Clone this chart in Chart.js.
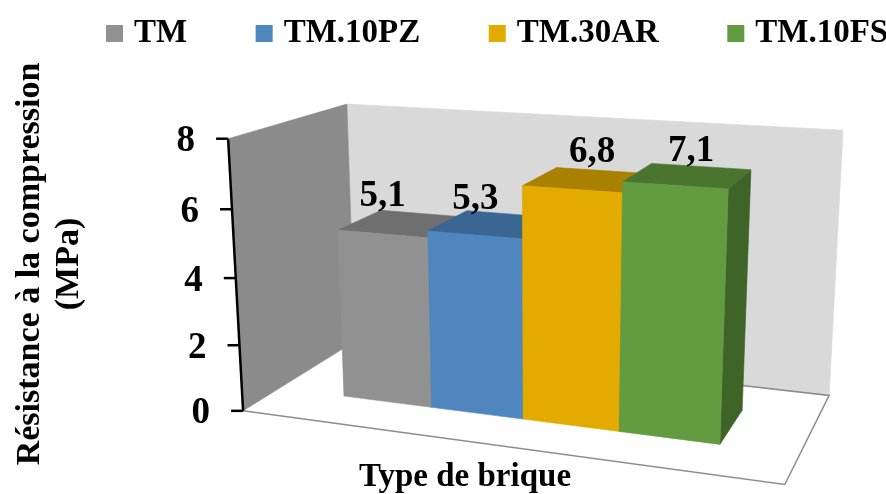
<!DOCTYPE html>
<html>
<head>
<meta charset="utf-8">
<style>html,body{margin:0;padding:0;background:#fff}canvas{display:block}</style>
<script src="https://cdn.jsdelivr.net/npm/chart.js@4"></script>
</head>
<body>
<canvas id="c" width="886" height="494"></canvas>
<script>
const categories = ["Type de brique"];
const seriesNames = ["TM", "TM.10PZ", "TM.30AR", "TM.10FS"];
const tmValues = [5.1];
const pzValues = [5.3];
const arValues = [6.8];
const fsValues = [7.1];
const tickLabels = ["0", "2", "4", "6", "8"];
const frontColors = ["#919191", "#4f86bd", "#e3aa00", "#629b40"];
const topColors = ["#6f6f6f", "#3b6593", "#aa8000", "#4a752f"];
const sideColors = ["#5f5f5f", "#33587f", "#8f6b00", "#3e6428"];
const labelShiftX = [-21, -18, 4, 3];
const labelShiftY = [-2, 1, -3, 0];
const FONT = '"Liberation Serif"';

// 3D box of the chart: corners as [u, v, depth] -> picture position
const boxCorners = [
  [0,0,0, 243,411],[1,0,0, 785,484],[1,0,1, 829,396],[0,0,1, 355,341],
  [0,1,0, 228,139],[0,1,1, 347,104],[1,1,1, 843,130]
];
function fitCamera(pts){
  const rows=[],rhs=[];
  pts.forEach(([u,v,d,X,Y])=>{
    rows.push([u,v,d,1,0,0,0,0,-X*u,-X*v,-X*d]);rhs.push(X);
    rows.push([0,0,0,0,u,v,d,1,-Y*u,-Y*v,-Y*d]);rhs.push(Y);
  });
  const n=11,M=[];
  for(let i=0;i<n;i++){
    const r=new Array(n+1).fill(0);
    for(let j=0;j<n;j++)rows.forEach(row=>{r[j]+=row[i]*row[j];});
    rows.forEach((row,k)=>{r[n]+=row[i]*rhs[k];});
    M.push(r);
  }
  for(let i=0;i<n;i++){
    let p=i;for(let k=i+1;k<n;k++)if(Math.abs(M[k][i])>Math.abs(M[p][i]))p=k;
    [M[i],M[p]]=[M[p],M[i]];
    for(let k=0;k<n;k++){if(k===i)continue;const f=M[k][i]/M[i][i];for(let j=i;j<=n;j++)M[k][j]-=f*M[i][j];}
  }
  return M.map((r,i)=>r[n]/r[i]);
}
const cam=fitCamera(boxCorners);
function project(u,v,d){
  const w=cam[8]*u+cam[9]*v+cam[10]*d+1;
  return [(cam[0]*u+cam[1]*v+cam[2]*d+cam[3])/w,(cam[4]*u+cam[5]*v+cam[6]*d+cam[7])/w];
}
function poly(ctx,pts,fill,stroke){
  ctx.beginPath();pts.forEach((p,i)=>i?ctx.lineTo(p[0],p[1]):ctx.moveTo(p[0],p[1]));ctx.closePath();
  ctx.fillStyle=fill;ctx.fill();
  ctx.strokeStyle=stroke||fill;ctx.lineWidth=0.6;ctx.stroke();
}
const D1=0.30,D2=0.70;

const scene3d={
  id:'scene3d',
  beforeLayout(chart){
    const lg=chart.legend;
    if(lg&&!lg._wrapped){
      const f=lg.fit;
      lg.fit=function(){
        const mw=this.maxWidth;
        this.maxWidth=1400;
        f.call(this);
        this.maxWidth=mw;this.width=mw;this.height=50;
      };
      lg._wrapped=true;
    }
  },
  afterLayout(chart){
    const lg=chart.legend,pad=lg.options.labels.padding;
    lg.left=111.5-pad; lg.right=1400;
    lg.top=17-pad; lg.bottom=60;
  },
  beforeDatasetsDraw(chart){
    const ctx=chart.ctx,xs=chart.scales.x,ys=chart.scales.y,area=chart.chartArea;
    const vOf=val=>(ys.getPixelForValue(0)-ys.getPixelForValue(val))/(ys.getPixelForValue(0)-ys.getPixelForValue(ys.max));
    const A=project(0,0,0),B=project(1,0,0),C=project(1,0,1),Dd=project(0,0,1);
    const E=project(0,1,0),F=project(0,1,1),G=project(1,1,1);
    // walls
    poly(ctx,[F,G,C,Dd],'#d9d9d9');
    poly(ctx,[E,F,Dd,A],'#8b8b8b');
    // floor outline
    ctx.beginPath();ctx.moveTo(A[0],A[1]);ctx.lineTo(B[0],B[1]);ctx.lineTo(C[0],C[1]);ctx.lineTo(Dd[0],Dd[1]);
    ctx.strokeStyle='#8c8c8c';ctx.lineWidth=1.5;ctx.stroke();
    // axis line and ticks
    ctx.strokeStyle='#000';ctx.lineWidth=2.5;
    ctx.beginPath();ctx.moveTo(A[0],A[1]);ctx.lineTo(E[0],E[1]);ctx.stroke();
    ctx.textAlign='right';ctx.textBaseline='middle';ctx.fillStyle='#000';ctx.font='bold 37px '+FONT;
    ys.ticks.forEach(t=>{
      const p=project(0,vOf(t.value),0);
      ctx.beginPath();ctx.moveTo(p[0],p[1]);ctx.lineTo(p[0]-12,p[1]);ctx.stroke();
      ctx.fillText(t.label,p[0]-33,p[1]+3);
    });
    // bars
    const norm=x=>(x-area.left)/(area.right-area.left);
    const items=chart.data.datasets.map((ds,i)=>{
      const el=chart.getDatasetMeta(i).data[0];
      return {i,u1:norm(el.x-el.width/2),u2:norm(el.x+el.width/2),v:vOf(ds.data[0]),val:ds.data[0]};
    });
    items.forEach(b=>{
      const fb1=project(b.u1,0,D1),fb2=project(b.u2,0,D1),ft1=project(b.u1,b.v,D1),ft2=project(b.u2,b.v,D1);
      const bb2=project(b.u2,0,D2),bt1=project(b.u1,b.v,D2),bt2=project(b.u2,b.v,D2);
      poly(ctx,[ft2,bt2,bb2,fb2],sideColors[b.i]);
      poly(ctx,[ft1,ft2,bt2,bt1],topColors[b.i]);
      poly(ctx,[ft1,ft2,fb2,fb1],frontColors[b.i]);
    });
    // value labels
    ctx.textAlign='center';ctx.textBaseline='alphabetic';ctx.fillStyle='#000';ctx.font='bold 37px '+FONT;
    items.forEach(b=>{
      const uc=(b.u1+b.u2)/2;
      const m=project(uc,b.v,(D1+D2)/2),k=project(uc,b.v,D2);
      ctx.fillText(b.val.toFixed(1).replace('.',','),m[0]+labelShiftX[b.i],k[1]-6+labelShiftY[b.i]);
    });
    return false;
  }
};

new Chart(document.getElementById('c'),{
  type:'bar',
  data:{
    labels:categories,
    datasets:[
      {label:seriesNames[0],data:tmValues,backgroundColor:frontColors[0]},
      {label:seriesNames[1],data:pzValues,backgroundColor:frontColors[1]},
      {label:seriesNames[2],data:arValues,backgroundColor:frontColors[2]},
      {label:seriesNames[3],data:fsValues,backgroundColor:frontColors[3]}
    ]
  },
  plugins:[scene3d],
  options:{
    responsive:false,
    animation:false,
    layout:{padding:{left:10,right:41,top:70,bottom:0}},
    datasets:{bar:{categoryPercentage:0.725,barPercentage:1}},
    plugins:{
      tooltip:{enabled:false},
      legend:{
        display:true,position:'top',align:'start',
        labels:{
          color:'#000',font:{family:FONT,size:33,weight:'bold'},
          padding:74,usePointStyle:true,pointStyle:'rect',boxWidth:6,boxHeight:17
        }
      }
    },
    scales:{
      x:{
        grid:{display:false},border:{display:false},
        ticks:{display:false},
        title:{display:true,text:categories[0],color:'#000',font:{family:FONT,size:33,weight:'bold',lineHeight:1},padding:{top:45,bottom:0}}
      },
      y:{
        min:0,max:8,
        afterFit(s){s.width=75;},
        grid:{display:false},border:{display:false},
        ticks:{display:false,stepSize:2,callback:(v)=>tickLabels[v/2]},
        title:{display:true,text:["Résistance à la compression","(MPa)"],color:'#000',font:{family:FONT,size:34,weight:'bold',lineHeight:1.16},padding:0}
      }
    }
  }
});
</script>
</body>
</html>
